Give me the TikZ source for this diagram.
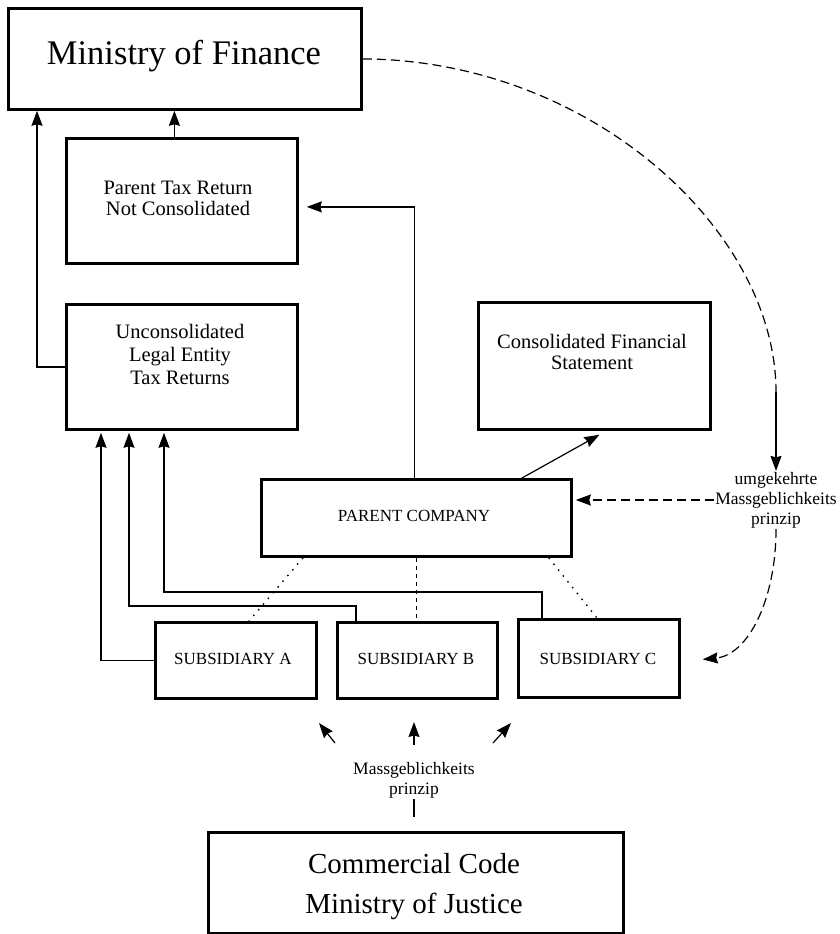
\documentclass[tikz,border=0pt]{standalone}
\usepackage{fontspec}
\setmainfont{Liberation Serif}
\usetikzlibrary{arrows.meta,calc}
\begin{document}
\begin{tikzpicture}[x=1pt,y=1pt,
  box/.style={draw,line width=2.8pt,rectangle,inner sep=0pt,anchor=north west},
  conn/.style={line width=1.2pt},
  tip/.style={-{Stealth[length=15pt,width=11pt,inset=1.5pt]}},
  arr/.style={conn,tip},
  longdash/.style={line width=1.2pt,dash pattern=on 9pt off 5pt},
  txt/.style={align=center,inner sep=0pt},
  lab/.style={align=center,inner sep=1pt,font=\fontsize{17.5}{20}\selectfont}
]
\useasboundingbox (0,0) rectangle (839,-934);

% boxes
\node[box,minimum width=353pt,minimum height=101pt] (mof) at (7,-7) {};
\node[box,minimum width=231pt,minimum height=125pt] (ptr) at (65,-137) {};
\node[box,minimum width=231pt,minimum height=125pt] (unc) at (65,-303) {};
\node[box,minimum width=232pt,minimum height=127pt] (cfs) at (477,-301) {};
\node[box,minimum width=310pt,minimum height=77pt] (pc) at (260,-478) {};
\node[box,minimum width=161pt,minimum height=76pt] (suba) at (154,-621) {};
\node[box,minimum width=160pt,minimum height=76pt] (subb) at (336,-621) {};
\node[box,minimum width=161pt,minimum height=78pt] (subc) at (517,-618) {};
\node[box,minimum width=415pt,minimum height=101pt] (cc) at (207,-831) {};

% texts
\node[txt,font=\fontsize{34.5}{40}\selectfont] (tmof) at (184,-56) {Ministry of Finance};
\node[txt,font=\fontsize{20.5}{21}\selectfont] (tptr) at (178,-198) {Parent Tax Return\\Not Consolidated};
\node[txt,font=\fontsize{20.5}{23}\selectfont] (tunc) at (180,-354) {Unconsolidated\\Legal Entity\\Tax Returns};
\node[txt,font=\fontsize{20.5}{21}\selectfont] (tcfs) at (592,-352) {Consolidated Financial\\Statement};
\node[txt,font=\fontsize{17}{20}\selectfont] (tpc) at (414,-516) {PARENT COMPANY};
\node[txt,font=\fontsize{17}{20}\selectfont] (tsa) at (233,-659) {SUBSIDIARY A};
\node[txt,font=\fontsize{17}{20}\selectfont] (tsb) at (416,-659) {SUBSIDIARY B};
\node[txt,font=\fontsize{17}{20}\selectfont] (tsc) at (598,-659) {SUBSIDIARY C};
\node[txt,font=\fontsize{29}{40}\selectfont] (tcc) at (414,-887) {Commercial Code\\Ministry of Justice};

% labels
\node[lab] (lab1) at (776,-500) {umgekehrte\\Massgeblichkeits\\prinzip};
\node[lab] (lab2) at (414,-780) {Massgeblichkeits\\prinzip};

% solid connectors
\draw[arr] (unc.west) -| ([xshift=30]mof.south west);
\draw[arr] ([xshift=-7.5]ptr.north) -- ([xshift=-7.5]ptr.north |- mof.south);
\draw[arr] ([xshift=-2]pc.north) |- ([xshift=8,yshift=-6]ptr.east);
\draw[arr] ([xshift=262]pc.north west) -- ([xshift=5,yshift=-4]cfs.south);

% subsidiaries to unconsolidated
\draw[arr] (suba.west) -| ([xshift=36,yshift=-2]unc.south west);
\draw[arr] ([xshift=20]subb.north west) -- ++(0,15) -| ([xshift=64,yshift=-2]unc.south west);
\draw[arr] ([xshift=25]subc.north west) -- ++(0,26) -| ([xshift=99,yshift=-2]unc.south west);

% ownership links
\draw[line width=1.4pt,dash pattern=on 1.5pt off 6pt] ([xshift=43]pc.south west) -- ([xshift=95]suba.north west);
\draw[line width=1.2pt,dash pattern=on 4pt off 4pt] (pc.south) -- (pc.south |- subb.north);
\draw[line width=1.4pt,dash pattern=on 1.5pt off 6pt] ([xshift=-24]pc.south east) -- ([xshift=80]subc.north west);

% reverse principle
\coordinate (bend) at (776,-392);
\draw[longdash] (mof.east) .. controls (590,-60) and (776,-230) .. (bend);
\draw[arr] (bend) -- (lab1.north);
\draw[longdash,tip] (lab1.west) -- (lab1.west -| {$(pc.east)+(3,0)$});
\draw[longdash,tip] (lab1.south) .. controls (776,-600) and (748,-655) .. ([xshift=22,yshift=-1]subc.east);

% principle from commercial code
\coordinate (fa) at (335,-743);
\coordinate (fb) at (414,-745);
\coordinate (fc) at (493,-743);
\draw[arr] (fa) -- ++(-16,20);
\draw[arr] (fb) -- ++(0,23);
\draw[arr] (fc) -- ++(18,20);
\draw[conn] (lab2.south) -- (lab2.south |- 0,-817);
\end{tikzpicture}
\end{document}
